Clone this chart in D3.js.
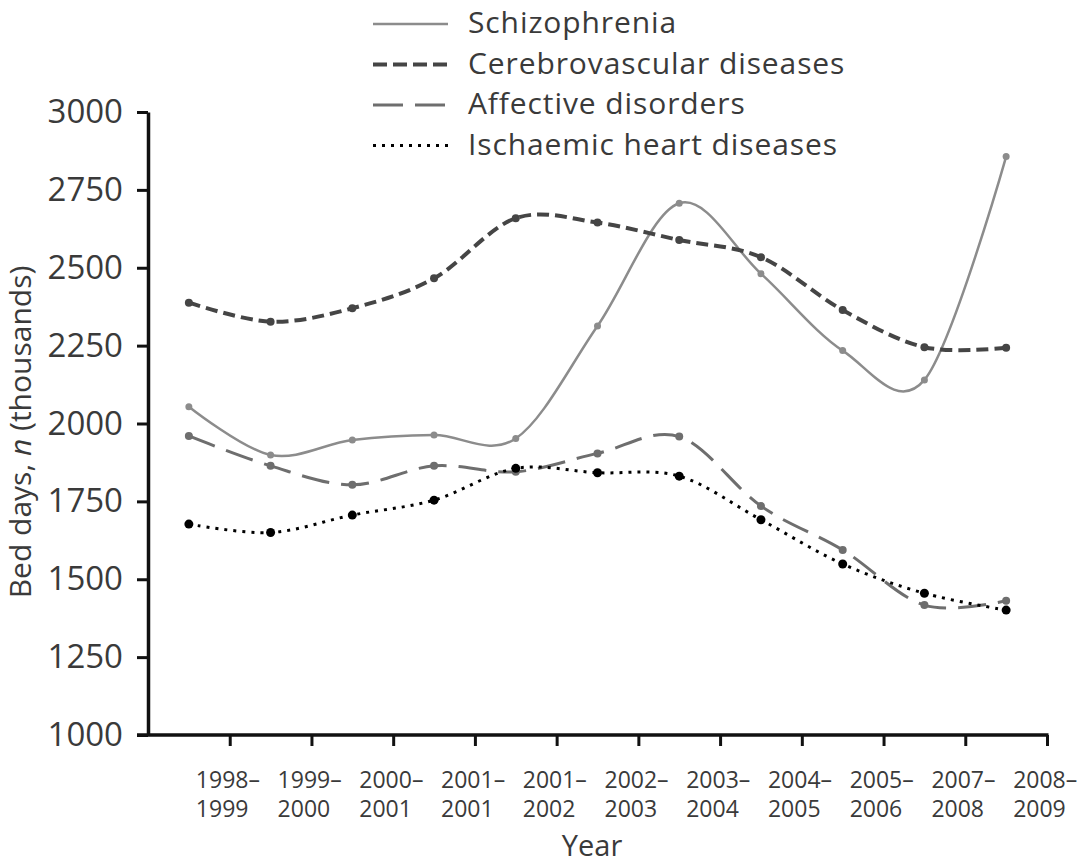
<!DOCTYPE html>
<html>
<head>
<meta charset="utf-8">
<script src="https://cdn.jsdelivr.net/npm/d3@7"></script>
<style>
  html, body { margin: 0; padding: 0; background: #fff; }
  svg { display: block; font-family: "Open Sans", "DejaVu Sans", sans-serif; }
</style>
</head>
<body>
<svg id="chart" width="1077" height="865"></svg>
<script>
// ---- data ----
const categories = ["1998–1999","1999–2000","2000–2001","2001–2001","2001–2002","2002–2003",
                    "2003–2004","2004–2005","2005–2006","2007–2008","2008–2009"];
const schizophrenia   = [2054, 1899, 1947, 1963, 1952, 2313, 2707, 2481, 2234, 2140, 2857];
const cerebrovascular = [2388, 2327, 2370, 2466, 2659, 2645, 2589, 2534, 2364, 2245, 2243];
const affective       = [1960, 1864, 1803, 1864, 1845, 1904, 1958, 1735, 1594, 1417, 1431];
const ischaemic       = [1677, 1650, 1706, 1754, 1856, 1842, 1831, 1691, 1549, 1455, 1401];
const yTicks = [1000, 1250, 1500, 1750, 2000, 2250, 2500, 2750, 3000];
const seriesNames = ["Schizophrenia", "Cerebrovascular diseases", "Affective disorders", "Ischaemic heart diseases"];

const series = [
  { name: seriesNames[0], values: schizophrenia,   color: "#8c8c8c", width: 2.5, dash: null,   mcolor: "#8c8c8c", r: 3.5, legDash: null },
  { name: seriesNames[1], values: cerebrovascular, color: "#454545", width: 4,   dash: "12,6", mcolor: "#454545", r: 4,   legDash: "14,6" },
  { name: seriesNames[2], values: affective,       color: "#6e6e6e", width: 3,   dash: "28,12", mcolor: "#6e6e6e", r: 4,  legDash: "30,12" },
  { name: seriesNames[3], values: ischaemic,       color: "#000000", width: 3,   dash: "3,6",  mcolor: "#000000", r: 4.5, legDash: "3,6" }
];

const svg = d3.select("#chart");
const mLeft = 148, mRight = 1047, mTop = 112, mBottom = 735;
const textColor = "#3a3a3a";

const x = d3.scaleBand().domain(categories).range([mLeft, mRight]).padding(0);
const xEdge = d3.scaleLinear().domain([0, categories.length]).range([mLeft, mRight]);
const y = d3.scaleLinear().domain([1000, 3000]).range([mBottom, mTop]);
const cx = c => x(c) + x.bandwidth() / 2;

// ---- y axis ----
const yAxis = svg.append("g").attr("transform", `translate(${mLeft},0)`)
  .call(d3.axisLeft(y).tickValues(yTicks).tickSize(11).tickSizeOuter(0).tickPadding(14).tickFormat(d3.format("d")));
yAxis.select(".domain").attr("stroke", "#111").attr("stroke-width", 3.5);
yAxis.selectAll(".tick line").attr("stroke", "#111").attr("stroke-width", 3);
yAxis.selectAll(".tick text").attr("font-size", 33).attr("fill", textColor)
  .attr("font-family", "'Open Sans', sans-serif");

// ---- x axis ----
const xAxis = svg.append("g").attr("transform", `translate(0,${mBottom})`)
  .call(d3.axisBottom(xEdge).tickValues(d3.range(1, categories.length + 1)).tickSize(11).tickSizeOuter(0).tickFormat(""));
xAxis.select(".domain").attr("stroke", "#111").attr("stroke-width", 3.5)
  .attr("d", `M${mLeft - 11},0H${mRight + 1.5}`);
xAxis.selectAll(".tick line").attr("stroke", "#111").attr("stroke-width", 3);

// x tick labels (two lines)
const xl = svg.append("g").attr("font-size", 23).attr("fill", textColor);
categories.forEach(c => {
  const parts = c.split("–");
  const t = xl.append("text").attr("x", cx(c) + 7).attr("y", 788).attr("text-anchor", "start");
  t.append("tspan").attr("x", cx(c) + 7).attr("y", 788).text(parts[0] + "–");
  t.append("tspan").attr("x", cx(c) + 7).attr("y", 817).text(parts[1]);
});

// axis titles
svg.append("text").attr("x", 592).attr("y", 856).attr("text-anchor", "middle")
  .attr("font-size", 29).attr("fill", textColor).text("Year");
const yt = svg.append("text").attr("transform", "translate(31,432) rotate(-90)")
  .attr("text-anchor", "middle").attr("font-size", 30).attr("fill", textColor);
yt.append("tspan").text("Bed days, ");
yt.append("tspan").attr("font-style", "italic").text("n");
yt.append("tspan").text(" (thousands)");

// ---- lines ----
const line = d3.line()
  .x((d, i) => cx(categories[i]))
  .y(d => y(d))
  .curve(d3.curveCardinal.tension(0));

series.forEach(s => {
  svg.append("path").datum(s.values)
    .attr("fill", "none").attr("stroke", s.color).attr("stroke-width", s.width)
    .attr("stroke-dasharray", s.dash).attr("d", line);
});
series.forEach(s => {
  svg.append("g").selectAll("circle").data(s.values).join("circle")
    .attr("cx", (d, i) => cx(categories[i])).attr("cy", d => y(d))
    .attr("r", s.r).attr("fill", s.mcolor);
});

// ---- legend ----
const leg = svg.append("g");
series.forEach((s, i) => {
  const ly = 33 + i * 40.5;
  leg.append("line").attr("x1", 373).attr("x2", 448).attr("y1", ly - 9).attr("y2", ly - 9)
    .attr("stroke", s.color).attr("stroke-width", s.width).attr("stroke-dasharray", s.legDash);
  leg.append("text").attr("x", 468).attr("y", ly).attr("font-size", 30)
    .attr("letter-spacing", 0.9).attr("fill", textColor).text(s.name);
});
</script>
</body>
</html>
